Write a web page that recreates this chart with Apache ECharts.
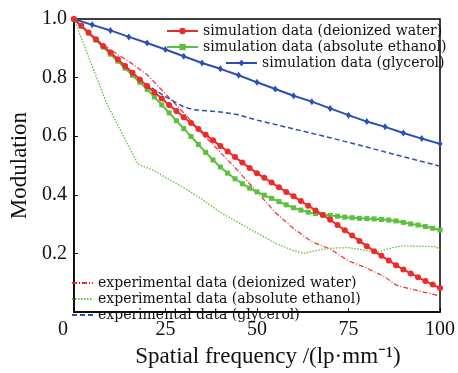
<!DOCTYPE html>
<html><head><meta charset="utf-8">
<script src="https://cdn.jsdelivr.net/npm/echarts@6/dist/echarts.min.js"></script>
<style>html,body{margin:0;padding:0;background:#fff}#c{width:458px;height:373px}</style>
</head><body><div id="c"></div>
<script>
// x positions (spatial frequency, lp/mm)
const xSim2 = [0,2,4,6,8,10,12,14,16,18,20,22,24,26,28,30,32,34,36,38,40,42,44,46,48,50,52,54,56,58,60,62,64,66,68,70,72,74,76,78,80,82,84,86,88,90,92,94,96,98,100];
const xSim5 = [0,5,10,15,20,25,30,35,40,45,50,55,60,65,70,75,80,85,90,95,100];
const simWater = [1.000,0.977,0.954,0.931,0.908,0.886,0.863,0.840,0.817,0.794,0.771,0.750,0.729,0.707,0.686,0.665,0.645,0.625,0.605,0.586,0.567,0.548,0.529,0.510,0.492,0.474,0.458,0.442,0.426,0.410,0.395,0.379,0.363,0.347,0.331,0.315,0.297,0.279,0.261,0.243,0.225,0.208,0.192,0.176,0.160,0.145,0.132,0.119,0.106,0.094,0.082];
const simEthanol = [1.000,0.976,0.952,0.928,0.904,0.880,0.856,0.832,0.808,0.784,0.760,0.734,0.707,0.680,0.653,0.626,0.599,0.572,0.545,0.519,0.495,0.474,0.455,0.438,0.423,0.410,0.399,0.388,0.377,0.366,0.356,0.348,0.341,0.336,0.333,0.330,0.327,0.324,0.322,0.320,0.319,0.318,0.316,0.314,0.311,0.306,0.301,0.297,0.292,0.286,0.280];
const simGlycerol = [1.000,0.980,0.961,0.939,0.918,0.896,0.873,0.850,0.830,0.808,0.784,0.761,0.738,0.718,0.695,0.672,0.650,0.632,0.611,0.592,0.574];

const expWaterX = [0,5,10,15,20,25,30,35,40,45,50,55,60,65,70,75,80,85,88,90,95,100];
const expWaterY = [1.0,0.94,0.895,0.855,0.81,0.745,0.68,0.61,0.545,0.48,0.41,0.34,0.285,0.24,0.215,0.175,0.15,0.12,0.092,0.085,0.07,0.055];
const expEthanolX = [0,9,17.5,22,27,30,35,40,45,50,55,60,63,66,70,75,80,83,87,90,95,99,100];
const expEthanolY = [1.0,0.71,0.505,0.482,0.445,0.425,0.385,0.34,0.305,0.27,0.235,0.21,0.2,0.21,0.218,0.22,0.21,0.205,0.22,0.226,0.225,0.223,0.213];
const expGlycerolX = [0,10,15,20,25,30,33,40,45,50,60,70,80,90,100];
const expGlycerolY = [1.0,0.885,0.825,0.775,0.735,0.70,0.69,0.683,0.673,0.655,0.625,0.595,0.563,0.53,0.498];

const yTicks = [0,0.2,0.4,0.6,0.8,1.0];

const RED='#ee2b2b', GREEN='#5dbf3e', BLUE='#2a4fb5';
const FONT='Liberation Serif';
const LFONT='DejaVu Serif';
const zip=(xs,ys)=>xs.map((x,i)=>[x,ys[i]]);

const chart = echarts.init(document.getElementById('c'));
const legendText = {fontFamily:LFONT, fontSize:14, color:'#111'};
const topLeg = (name,left,top,w)=>({data:[name],left,top,itemWidth:w,itemHeight:8,itemGap:0,textStyle:legendText,padding:0});
const botLeg = (name,top)=>({data:[name],left:71,top,itemWidth:21,itemHeight:8,itemGap:0,textStyle:legendText,padding:0,itemStyle:{opacity:0}});
chart.setOption({
  animation:false,
  grid:{left:67,right:16,top:19,bottom:48,show:true,borderColor:'#000',borderWidth:1.5},
  legend:[
    topLeg('simulation data (deionized water)',166,24,31),
    topLeg('simulation data (absolute ethanol)',166,40,31),
    topLeg('simulation data (glycerol)',225,56,31),
    botLeg('experimental data (deionized water)',276),
    botLeg('experimental data (absolute ethanol)',292),
    botLeg('experimental data (glycerol)',308)
  ],
  xAxis:{type:'value',min:0,max:100,interval:25,
    name:'Spatial frequency /(lp·mm⁻¹)',nameLocation:'middle',nameGap:26,
    nameTextStyle:{fontFamily:FONT,fontSize:23,color:'#111',padding:[0,0,0,22]},
    axisLine:{lineStyle:{color:'#000',width:1.5}},
    axisTick:{inside:true,length:4,lineStyle:{color:'#000'}},
    axisLabel:{fontFamily:FONT,fontSize:20,color:'#111',margin:8,
      formatter:v=>v===0?'{z|0}':String(v),
      rich:{z:{fontFamily:FONT,fontSize:20,color:'#111',padding:[0,22,0,0]}}},
    splitLine:{show:false}},
  yAxis:{type:'value',min:0,max:1.0,interval:0.2,
    name:'Modulation',nameLocation:'middle',nameGap:42,
    nameTextStyle:{fontFamily:FONT,fontSize:23,color:'#111',padding:[0,0,0,0]},
    axisLine:{lineStyle:{color:'#000',width:1.5}},
    axisTick:{inside:true,length:4,lineStyle:{color:'#000'}},
    axisLabel:{fontFamily:FONT,fontSize:20,color:'#111',margin:7,
      formatter:v=>{const t=yTicks.find(a=>Math.abs(a-v)<1e-9);return (t===undefined||t===0)?'':t.toFixed(1);}},
    splitLine:{show:false}},
  series:[
    {name:'simulation data (deionized water)',type:'line',data:zip(xSim2,simWater),symbol:'circle',symbolSize:6,
      lineStyle:{color:RED,width:2},itemStyle:{color:RED},z:5},
    {name:'simulation data (absolute ethanol)',type:'line',data:zip(xSim2,simEthanol),symbol:'rect',symbolSize:5,
      lineStyle:{color:GREEN,width:2},itemStyle:{color:GREEN},z:4},
    {name:'simulation data (glycerol)',type:'line',data:zip(xSim5,simGlycerol),symbol:'diamond',symbolSize:[5,7],
      lineStyle:{color:BLUE,width:2},itemStyle:{color:BLUE},z:4},
    {name:'experimental data (deionized water)',type:'line',data:zip(expWaterX,expWaterY),symbol:'none',
      lineStyle:{color:RED,width:1.2,type:[5,2,1,2]},itemStyle:{color:RED},z:3},
    {name:'experimental data (absolute ethanol)',type:'line',data:zip(expEthanolX,expEthanolY),symbol:'none',
      lineStyle:{color:GREEN,width:1.3,type:[1.5,1.5]},itemStyle:{color:GREEN},z:3},
    {name:'experimental data (glycerol)',type:'line',data:zip(expGlycerolX,expGlycerolY),symbol:'none',
      lineStyle:{color:BLUE,width:1.5,type:[5,3]},itemStyle:{color:BLUE},z:3}
  ]
});
</script></body></html>
